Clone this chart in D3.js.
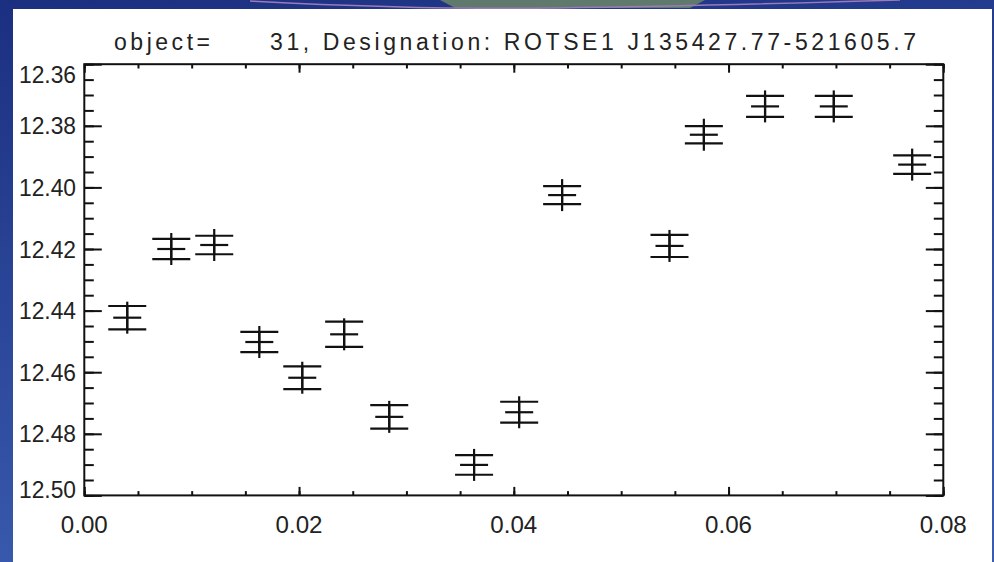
<!DOCTYPE html>
<html>
<head>
<meta charset="utf-8">
<script src="https://cdn.jsdelivr.net/npm/d3@7"></script>
<style>
  html, body { margin: 0; padding: 0; background: #243f92; }
  svg { display: block; }
</style>
</head>
<body>
<div id="chartView"></div>
<script>
// light curve points: phase / time (x), magnitude and its error
const timeVals = [0.0040, 0.0081, 0.0121, 0.0163, 0.0203, 0.0242, 0.0284, 0.0363,
                  0.0405, 0.0445, 0.0545, 0.0577, 0.0634, 0.0698, 0.0771];
const magVals  = [12.4423, 12.4200, 12.4187, 12.4502, 12.4618, 12.4477, 12.4745, 12.4901,
                  12.4730, 12.4025, 12.4190, 12.3829, 12.3737, 12.3737, 12.3926];
const magErrs  = [0.0038, 0.0033, 0.0030, 0.0033, 0.0037, 0.0041, 0.0038, 0.0032,
                  0.0034, 0.0029, 0.0036, 0.0028, 0.0034, 0.0034, 0.0030];

const xMajor = [0.00, 0.02, 0.04, 0.06, 0.08];
const yMajor = [12.36, 12.38, 12.40, 12.42, 12.44, 12.46, 12.48, 12.50];
const xMinor = d3.range(0, 0.0801, 0.005);
const yMinor = d3.range(12.36, 12.5001, 0.005);

const titleLeft  = "object=";
const titleRight = "31, Designation: ROTSE1 J135427.77-521605.7";

const width = 994;
const height = 562;
const frame = {left: 84.3, right: 943.3, top: 64.2, bottom: 495.4};

const svg = d3.select("#chartView")
  .append("svg")
  .attr("width", width)
  .attr("height", height);

// slide background
const grad = svg.append("defs").append("linearGradient")
  .attr("id", "bg")
  .attr("x1", 0).attr("y1", 0).attr("x2", 0.3).attr("y2", 1);
grad.append("stop").attr("offset", "0%").attr("stop-color", "#1b2f80");
grad.append("stop").attr("offset", "100%").attr("stop-color", "#3a5cb0");

svg.append("rect")
  .attr("width", width).attr("height", height)
  .attr("fill", "url(#bg)");
svg.append("path")
  .attr("d", "M440,0 L705,0 L690,8 L455,8 Z")
  .attr("fill", "#5f7a6c");
svg.append("path")
  .attr("d", "M250,1 Q420,10 560,8 Q700,6 900,0")
  .attr("fill", "none")
  .attr("stroke", "#9a7ab8")
  .attr("stroke-width", 1.5);
svg.append("rect")
  .attr("x", 13).attr("y", 9)
  .attr("width", 979).attr("height", height - 9)
  .attr("fill", "#ffffff");

const xScale = d3.scaleLinear()
  .domain([0, 0.08])
  .range([frame.left, frame.right]);

const yScale = d3.scaleLinear()
  .domain([12.36, 12.50])
  .range([frame.top, frame.bottom]);

const ink = "#111";

// ticks, all pointing into the frame
function tickAxis(axis, values, size, tx, ty) {
  const g = svg.append("g")
    .attr("transform", `translate(${tx},${ty})`)
    .call(axis.tickValues(values).tickSize(size).tickFormat(""));
  g.select(".domain").remove();
  g.selectAll("line").attr("stroke", ink).attr("stroke-width", 2);
}
tickAxis(d3.axisBottom(xScale), xMinor, -4.3, 0, frame.bottom);
tickAxis(d3.axisBottom(xScale), xMajor, -8.5, 0, frame.bottom);
tickAxis(d3.axisTop(xScale), xMinor, -4.3, 0, frame.top);
tickAxis(d3.axisTop(xScale), xMajor, -8.5, 0, frame.top);
tickAxis(d3.axisLeft(yScale), yMinor, -9.5, frame.left, 0);
tickAxis(d3.axisLeft(yScale), yMajor, -17.5, frame.left, 0);
tickAxis(d3.axisRight(yScale), yMinor, -9.5, frame.right, 0);
tickAxis(d3.axisRight(yScale), yMajor, -17.5, frame.right, 0);

svg.append("rect")
  .attr("x", frame.left).attr("y", frame.top)
  .attr("width", frame.right - frame.left)
  .attr("height", frame.bottom - frame.top)
  .attr("fill", "none")
  .attr("stroke", ink)
  .attr("stroke-width", 2);

// tick labels
const fmt = d3.format(".2f");
const labelFont = "'Liberation Sans', Arial, sans-serif";

svg.append("g").selectAll("text")
  .data(yMajor)
  .join("text")
  .attr("x", 76)
  .attr("y", d => Math.min(Math.max(yScale(d), 74), 489))
  .attr("dy", "0.36em")
  .attr("text-anchor", "end")
  .attr("textLength", 57)
  .attr("lengthAdjust", "spacingAndGlyphs")
  .attr("font-family", labelFont)
  .attr("font-size", 24)
  .attr("fill", "#222")
  .text(d => fmt(d));

svg.append("g").selectAll("text")
  .data(xMajor)
  .join("text")
  .attr("x", d => xScale(d))
  .attr("y", 533)
  .attr("text-anchor", "middle")
  .attr("textLength", 47)
  .attr("lengthAdjust", "spacingAndGlyphs")
  .attr("font-family", labelFont)
  .attr("font-size", 24)
  .attr("fill", "#222")
  .text(d => fmt(d));

// title
svg.append("text")
  .attr("x", 114).attr("y", 49.5)
  .attr("textLength", 96)
  .attr("lengthAdjust", "spacing")
  .attr("font-family", labelFont)
  .attr("font-size", 23)
  .attr("fill", "#222")
  .text(titleLeft);
svg.append("text")
  .attr("x", 270).attr("y", 49.5)
  .attr("textLength", 646)
  .attr("lengthAdjust", "spacing")
  .attr("font-family", labelFont)
  .attr("font-size", 23)
  .attr("fill", "#222")
  .text(titleRight);

// error bars with plus symbols
const points = timeVals.map((t, i) => ({t: t, m: magVals[i], e: magErrs[i]}));
const marks = svg.append("g")
  .attr("stroke", ink)
  .attr("stroke-width", 2.2);

const pt = marks.selectAll("g")
  .data(points)
  .join("g");

pt.append("line")   // error bar
  .attr("x1", d => xScale(d.t)).attr("x2", d => xScale(d.t))
  .attr("y1", d => yScale(d.m - d.e)).attr("y2", d => yScale(d.m + d.e));
pt.append("line")   // upper cap
  .attr("x1", d => xScale(d.t) - 19).attr("x2", d => xScale(d.t) + 19)
  .attr("y1", d => yScale(d.m - d.e)).attr("y2", d => yScale(d.m - d.e));
pt.append("line")   // lower cap
  .attr("x1", d => xScale(d.t) - 19).attr("x2", d => xScale(d.t) + 19)
  .attr("y1", d => yScale(d.m + d.e)).attr("y2", d => yScale(d.m + d.e));
pt.append("line")   // plus, horizontal
  .attr("x1", d => xScale(d.t) - 14).attr("x2", d => xScale(d.t) + 14)
  .attr("y1", d => yScale(d.m)).attr("y2", d => yScale(d.m));
pt.append("line")   // plus, vertical
  .attr("x1", d => xScale(d.t)).attr("x2", d => xScale(d.t))
  .attr("y1", d => yScale(d.m) - 16).attr("y2", d => yScale(d.m) + 16);
</script>
</body>
</html>
